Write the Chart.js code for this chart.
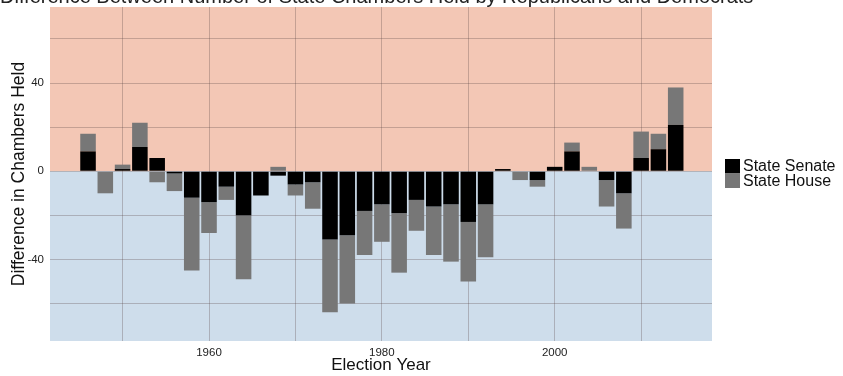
<!DOCTYPE html>
<html>
<head>
<meta charset="utf-8">
<script src="https://cdn.jsdelivr.net/npm/chart.js@4.4.0/dist/chart.umd.min.js"></script>
<style>
  html, body { margin: 0; padding: 0; background: #fff; overflow: hidden; }
  /* the title is cut at the top in the original, so the canvas is pushed up a bit */
  #wrap { position: absolute; left: 0; top: -13px; width: 843px; height: 389px; }
</style>
</head>
<body>
<div id="wrap"><canvas id="chart"></canvas></div>
<script>
// election years, one bar each
const years = [1946, 1948, 1950, 1952, 1954, 1956, 1958, 1960, 1962, 1964, 1966, 1968,
  1970, 1972, 1974, 1976, 1978, 1980, 1982, 1984, 1986, 1988, 1990, 1992, 1994, 1996,
  1998, 2000, 2002, 2004, 2006, 2008, 2010, 2012, 2014]

// republican minus democrat chambers
const senate = [9, 0, 1, 11, 6, -1, -12, -14, -7, -20, -11, -2,
  -6, -5, -31, -29, -18, -15, -19, -13, -16, -15, -23, -15, 1, 0,
  -4, 2, 9, 0, -4, -10, 6, 10, 21]
const house = [8, -10, 2, 11, -5, -8, -33, -14, -6, -29, 0, 2,
  -5, -12, -33, -31, -20, -17, -27, -14, -22, -26, -27, -24, 0, -4,
  -3, 0, 4, 2, -12, -16, 12, 7, 17]

const xTicks = [1950, 1960, 1970, 1980, 1990, 2000, 2010]
const xLabels = ['', '1960', '', '1980', '', '2000', '']
const yTicks = [-60, -40, -20, 0, 20, 40, 60]
const yLabels = ['', '-40', '', '0', '', '40', '']

const font = 'Liberation Sans, Arial, sans-serif'
const gridColor = 'rgba(90,70,70,0.3)'

// pink above zero, blue below, like the original panel
const bgPlugin = {
  id: 'bg',
  beforeDraw(chart) {
    const {ctx, chartArea} = chart
    const zero = chart.scales.y.getPixelForValue(0)
    ctx.save()
    ctx.fillStyle = '#F3C7B5'
    ctx.fillRect(chartArea.left, chartArea.top, chartArea.width, zero - chartArea.top)
    ctx.fillStyle = '#CEDDEB'
    ctx.fillRect(chartArea.left, zero, chartArea.width, chartArea.bottom - zero)
    ctx.restore()
  }
}

// legend on the right, squares stuck together
const legendPlugin = {
  id: 'sideLegend',
  afterDraw(chart) {
    const ctx = chart.ctx
    const x = chart.chartArea.right + 13
    let y = chart.chartArea.top + 152
    ctx.save()
    ctx.font = '16px ' + font
    ctx.textBaseline = 'middle'
    chart.data.datasets.forEach(ds => {
      ctx.fillStyle = ds.backgroundColor
      ctx.fillRect(x, y, 15, 14.5)
      ctx.fillStyle = '#111'
      ctx.fillText(ds.label, x + 18, y + 7.8)
      y += 14.5
    })
    ctx.restore()
  }
}

let ctx = document.getElementById('chart')

new Chart(ctx, {
  type: 'bar',
  data: {
    datasets: [{
      label: 'State Senate',
      data: years.map((yr, i) => ({x: yr, y: senate[i]})),
      backgroundColor: '#000000',
      borderWidth: 0
    }, {
      label: 'State House',
      data: years.map((yr, i) => ({x: yr, y: house[i]})),
      backgroundColor: '#777777',
      borderWidth: 0
    }]
  },
  options: {
    responsive: true,
    maintainAspectRatio: false,
    animation: false,
    barPercentage: 0.9,
    categoryPercentage: 1,
    layout: { padding: 0 },
    plugins: {
      legend: { display: false },
      tooltip: { enabled: false },
      title: {
        display: true,
        text: 'Difference Between Number of State Chambers Held by Republicans and Democrats',
        align: 'start',
        color: '#222',
        font: { family: font, size: 20, weight: 'normal', lineHeight: 1.0 },
        padding: 0
      }
    },
    scales: {
      x: {
        type: 'linear',
        min: 1941.6,
        max: 2018.2,
        stacked: true,
        offset: false,
        afterBuildTicks: s => { s.ticks = xTicks.map(v => ({value: v})) },
        afterFit: s => { s.height = 35 },
        ticks: {
          autoSkip: false,
          maxRotation: 0,
          padding: 5,
          color: '#222',
          font: { family: font, size: 11.5 },
          callback: v => xLabels[xTicks.indexOf(v)]
        },
        grid: { color: gridColor, drawTicks: false, offset: false },
        border: { display: false },
        title: {
          display: true,
          text: 'Election Year',
          color: '#111',
          font: { family: font, size: 17 },
          padding: 0
        }
      },
      y: {
        min: -77,
        max: 74.5,
        stacked: true,
        afterBuildTicks: s => { s.ticks = yTicks.map(v => ({value: v})) },
        afterFit: s => { s.width = 50 },
        ticks: {
          padding: 6,
          color: '#222',
          font: { family: font, size: 11.5 },
          callback: v => yLabels[yTicks.indexOf(v)]
        },
        grid: { color: gridColor, drawTicks: false },
        border: { display: false },
        title: {
          display: true,
          text: 'Difference in Chambers Held',
          color: '#111',
          font: { family: font, size: 17.5 },
          padding: { top: 9, bottom: 0 }
        }
      },
      // empty axis on the right, only keeps room for the legend
      side: {
        position: 'right',
        grid: { display: false },
        ticks: { display: false },
        border: { display: false },
        afterFit: s => { s.width = 131 }
      }
    }
  },
  plugins: [bgPlugin, legendPlugin]
})
</script>
</body>
</html>
